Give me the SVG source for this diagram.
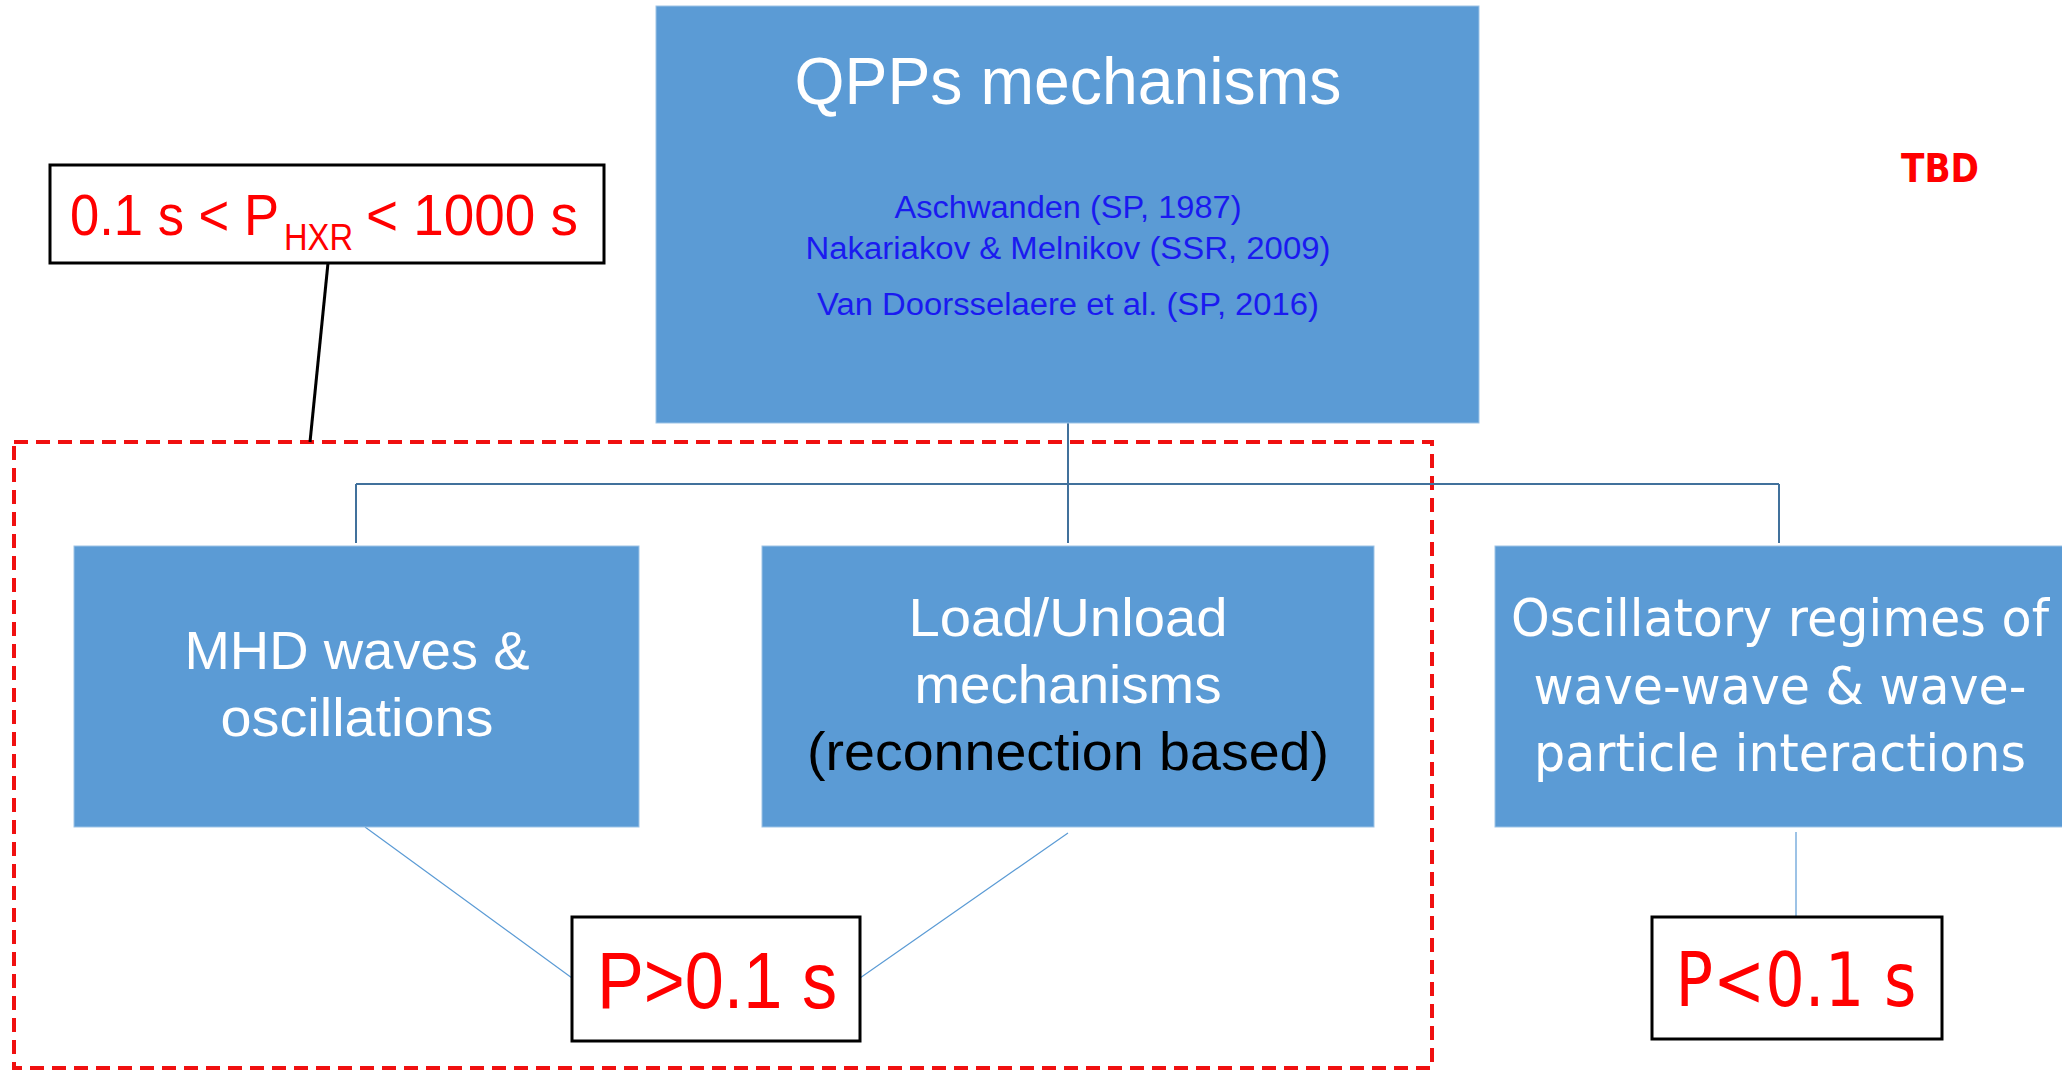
<svg xmlns="http://www.w3.org/2000/svg" width="2062" height="1071" viewBox="0 0 2062 1071">
<style>
.box{fill:#5B9BD5;stroke:#9DC3E6;stroke-width:1}
.cal{font-family:"Liberation Sans",Arial,sans-serif;text-anchor:middle}
.ver{font-family:"DejaVu Sans",Verdana,sans-serif;text-anchor:middle}
.w{fill:#FFFFFF}
.r{fill:#FF0000}
.b{fill:#1A1AF0}
.conn{fill:none;stroke:#41719C;stroke-width:2}
.thin{fill:none;stroke:#5B9BD5;stroke-width:1.2}
</style>
<rect width="2062" height="1071" fill="#FFFFFF"/>

<g id="region">
<rect x="14" y="442" width="1418" height="626" fill="none" stroke="#F01010" stroke-width="4" stroke-dasharray="14 8"/>
</g>

<g id="connectors">
<path class="conn" d="M1068 423 V484 M356 484 H1779 M356 484 V543 M1068 484 V543 M1779 484 V543"/>
<path class="thin" d="M365 827 L572 978 M1068 833 L860 978"/>
<path d="M1796 832 V917" fill="none" stroke="#9DC3E6" stroke-width="2"/>
<path d="M328 263 L310 442" fill="none" stroke="#000" stroke-width="3"/>
</g>

<g id="qpps">
<rect class="box" x="656" y="6" width="823" height="417"/>
<text class="cal w" x="1068" y="104" font-size="67" textLength="547" lengthAdjust="spacingAndGlyphs">QPPs mechanisms</text>
<text class="cal b" x="1068" y="218" font-size="31" textLength="347" lengthAdjust="spacingAndGlyphs">Aschwanden (SP, 1987)</text>
<text class="cal b" x="1068" y="259" font-size="31" textLength="525" lengthAdjust="spacingAndGlyphs">Nakariakov &amp; Melnikov (SSR, 2009)</text>
<text class="cal b" x="1068" y="315" font-size="31" textLength="502" lengthAdjust="spacingAndGlyphs">Van Doorsselaere et al. (SP, 2016)</text>
</g>

<g id="hxr">
<rect x="50" y="165" width="554" height="98" fill="#FFFFFF" stroke="#000" stroke-width="3"/>
<text class="r" font-family="Liberation Sans, Arial, sans-serif" font-size="58"><tspan x="70" y="235" textLength="209" lengthAdjust="spacingAndGlyphs">0.1 s &lt; P</tspan><tspan x="284" y="250" font-size="36" textLength="69" lengthAdjust="spacingAndGlyphs">HXR</tspan><tspan x="366" y="235" textLength="212" lengthAdjust="spacingAndGlyphs">&lt; 1000 s</tspan></text>
</g>

<g id="tbd">
<text class="ver r" x="1940" y="182" font-size="39" font-weight="bold" textLength="78" lengthAdjust="spacingAndGlyphs">TBD</text>
</g>

<g id="mhd">
<rect class="box" x="74" y="546" width="565" height="281"/>
<text class="cal w" x="357" y="669" font-size="54" textLength="345" lengthAdjust="spacingAndGlyphs">MHD waves &amp;</text>
<text class="cal w" x="357" y="736" font-size="54" textLength="273" lengthAdjust="spacingAndGlyphs">oscillations</text>
</g>

<g id="load">
<rect class="box" x="762" y="546" width="612" height="281"/>
<text class="cal w" x="1068" y="636" font-size="54" textLength="319" lengthAdjust="spacingAndGlyphs">Load/Unload</text>
<text class="cal w" x="1068" y="703" font-size="54" textLength="307" lengthAdjust="spacingAndGlyphs">mechanisms</text>
<text class="cal" x="1068" y="770" font-size="54" fill="#000" textLength="522" lengthAdjust="spacingAndGlyphs">(reconnection based)</text>
</g>

<g id="osc">
<rect class="box" x="1495" y="546" width="570" height="281"/>
<text class="ver w" x="1780" y="636" font-size="51" textLength="538" lengthAdjust="spacingAndGlyphs">Oscillatory regimes of</text>
<text class="ver w" x="1780" y="704" font-size="51" textLength="493" lengthAdjust="spacingAndGlyphs">wave-wave &amp; wave-</text>
<text class="ver w" x="1780" y="771" font-size="51" textLength="492" lengthAdjust="spacingAndGlyphs">particle interactions</text>
</g>

<g id="pgt">
<rect x="572" y="917" width="288" height="124" fill="#FFFFFF" stroke="#000" stroke-width="3"/>
<text class="cal r" x="717" y="1008" font-size="80" textLength="240" lengthAdjust="spacingAndGlyphs">P&gt;0.1 s</text>
</g>

<g id="plt">
<rect x="1652" y="917" width="290" height="122" fill="#FFFFFF" stroke="#000" stroke-width="3"/>
<text class="ver r" x="1796" y="1006" font-size="75" textLength="241" lengthAdjust="spacingAndGlyphs">P&lt;0.1 s</text>
</g>
</svg>
